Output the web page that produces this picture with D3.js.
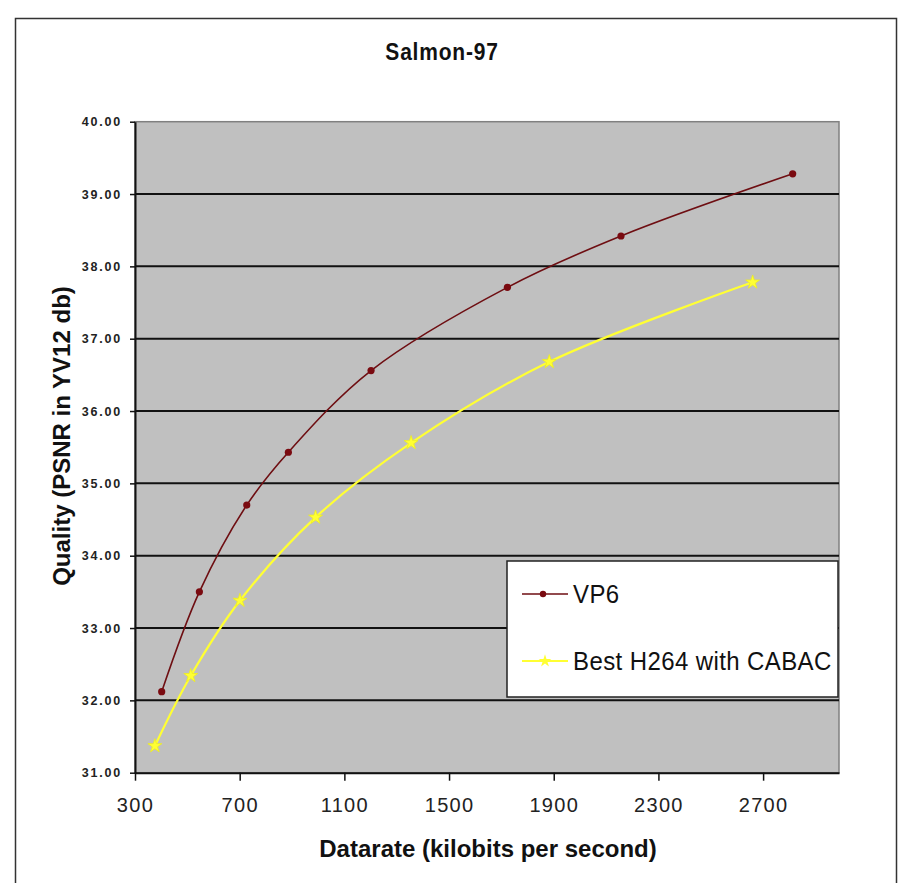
<!DOCTYPE html>
<html>
<head>
<meta charset="utf-8">
<script src="https://cdn.jsdelivr.net/npm/d3@7"></script>
<style>
  html, body { margin: 0; padding: 0; background: #fff; }
  svg { display: block; font-family: "Liberation Sans", Arial, sans-serif; }
</style>
</head>
<body>
<svg id="chart" width="899" height="883"></svg>
<script>
// ---- data ----
const title = "Salmon-97";
const xLabel = "Datarate (kilobits per second)";
const yLabel = "Quality (PSNR in YV12 db)";
const seriesNames = ["VP6", "Best H264 with CABAC"];
const vp6Rate = [402, 546, 727, 886, 1202, 1723, 2157, 2813];
const vp6Psnr = [32.12, 33.50, 34.70, 35.43, 36.56, 37.71, 38.42, 39.28];
const h264Rate = [376, 513, 701, 990, 1355, 1883, 2660];
const h264Psnr = [31.37, 32.34, 33.38, 34.53, 35.56, 36.68, 37.78];
const xTicks = [300, 700, 1100, 1500, 1900, 2300, 2700];
const yTicks = [31, 32, 33, 34, 35, 36, 37, 38, 39, 40];

// ---- layout ----
const svg = d3.select("#chart");
const L = 135, R = 839, T = 121.7, B = 772.7;
const x = d3.scaleLinear().domain([300, 2990]).range([L, R]);
const y = d3.scaleLinear().domain([31, 40]).range([B, T]);

// outer frame
svg.append("rect").attr("x", 15.5).attr("y", 18.5).attr("width", 881).attr("height", 900)
  .attr("fill", "#fff").attr("stroke", "#333").attr("stroke-width", 1.5);

// title
svg.append("text").attr("transform", "translate(442,60) scale(1,1.12)").attr("text-anchor", "middle")
  .attr("font-size", 21).attr("font-weight", "bold").attr("letter-spacing", 0.8)
  .attr("fill", "#111").text(title);

// plot background
svg.append("rect").attr("x", L).attr("y", T).attr("width", R - L).attr("height", B - T)
  .attr("fill", "#c0c0c0").attr("stroke", "#808080").attr("stroke-width", 1.5);

// grid lines
svg.append("g").selectAll("line").data(yTicks.filter(d => d > 31 && d < 40)).join("line")
  .attr("x1", L).attr("x2", R).attr("y1", d => y(d)).attr("y2", d => y(d))
  .attr("stroke", "#111").attr("stroke-width", 2);

// y axis
const yAxis = d3.axisLeft(y).tickValues(yTicks).tickFormat(d3.format(".2f")).tickSizeInner(5).tickSizeOuter(0).tickPadding(8);
const gy = svg.append("g").attr("transform", `translate(${L},0)`).call(yAxis);
gy.select(".domain").attr("stroke", "#111").attr("stroke-width", 2);
gy.selectAll(".tick line").attr("stroke", "#111").attr("stroke-width", 1.5);
gy.selectAll("text").attr("font-size", 12.5).attr("letter-spacing", 1.8).attr("fill", "#222")
  .attr("font-weight", 600)
  .attr("font-family", "'Liberation Sans', Arial, sans-serif");

// x axis
const xAxis = d3.axisBottom(x).tickValues(xTicks).tickFormat(d3.format("d")).tickSizeInner(8).tickSizeOuter(0).tickPadding(17);
const gx = svg.append("g").attr("transform", `translate(0,${B})`).call(xAxis);
gx.select(".domain").attr("stroke", "#111").attr("stroke-width", 2);
gx.selectAll(".tick line").attr("stroke", "#111").attr("stroke-width", 1.5);
gx.selectAll("text").attr("font-size", 20).attr("letter-spacing", 1.3).attr("fill", "#222")
  .attr("font-family", "'Liberation Sans', Arial, sans-serif");

// axis titles
svg.append("text").attr("x", 488).attr("y", 857).attr("text-anchor", "middle")
  .attr("font-size", 24).attr("font-weight", "bold").attr("fill", "#111").text(xLabel);
svg.append("text").attr("transform", `translate(70,436) rotate(-90)`).attr("text-anchor", "middle")
  .attr("font-size", 24).attr("font-weight", "bold").attr("fill", "#111").text(yLabel);

// series
const vp6 = vp6Rate.map((r, i) => [r, vp6Psnr[i]]);
const h264 = h264Rate.map((r, i) => [r, h264Psnr[i]]);
const line = d3.line().x(d => x(d[0])).y(d => y(d[1])).curve(d3.curveCatmullRom.alpha(0.5));

svg.append("path").datum(h264).attr("d", line).attr("fill", "none")
  .attr("stroke", "#ffff33").attr("stroke-width", 2.2);
svg.append("path").datum(vp6).attr("d", line).attr("fill", "none")
  .attr("stroke", "#6e0e12").attr("stroke-width", 1.6);

const star = d3.symbol().type(d3.symbolStar).size(60);
svg.append("g").selectAll("path").data(h264).join("path")
  .attr("transform", d => `translate(${x(d[0])},${y(d[1])})`).attr("d", star)
  .attr("fill", "#ffff33").attr("stroke", "#eeee20").attr("stroke-width", 0.8);
svg.append("g").selectAll("circle").data(vp6).join("circle")
  .attr("cx", d => x(d[0])).attr("cy", d => y(d[1])).attr("r", 3.6)
  .attr("fill", "#7a0a10");

// legend
const lg = svg.append("g");
lg.append("rect").attr("x", 507).attr("y", 561).attr("width", 331).attr("height", 136)
  .attr("fill", "#fff").attr("stroke", "#222").attr("stroke-width", 1.5);
const legendRows = [
  { name: seriesNames[0], y: 594, color: "#6e0e12", marker: "circle" },
  { name: seriesNames[1], y: 661, color: "#ffff33", marker: "star" }
];
legendRows.forEach(r => {
  lg.append("line").attr("x1", 522).attr("x2", 568).attr("y1", r.y).attr("y2", r.y)
    .attr("stroke", r.color).attr("stroke-width", r.marker === "star" ? 2 : 1.5);
  if (r.marker === "circle") {
    lg.append("circle").attr("cx", 543).attr("cy", r.y).attr("r", 3.2).attr("fill", "#7a0a10");
  } else {
    lg.append("path").attr("transform", `translate(545,${r.y})`).attr("d", d3.symbol().type(d3.symbolStar).size(50))
      .attr("fill", "#ffff33");
  }
  lg.append("text").attr("transform", `translate(573,${r.y + 9}) scale(1,1.08)`).attr("font-size", 24)
    .attr("letter-spacing", 0.4)
    .attr("fill", "#111").text(r.name);
});
</script>
</body>
</html>
